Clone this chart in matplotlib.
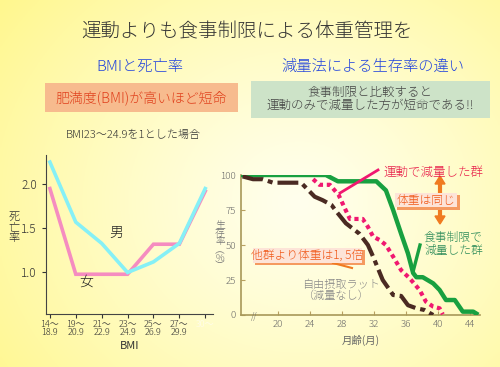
"""Slide: weight control by diet rather than exercise (BMI vs mortality, rat survival)."""
import matplotlib
matplotlib.use("Agg")
import matplotlib.pyplot as plt
import numpy as np
from matplotlib.patches import Rectangle

plt.rcParams["font.family"] = ["Noto Sans CJK JP", "DejaVu Sans"]
plt.rcParams["font.weight"] = "light"

W, H = 500, 367

# left panel: mortality ratio by BMI class (BMI 23-24.9 = 1)
bmi_labels = ["14～\n18.9", "19～\n20.9", "21～\n22.9", "23～\n24.9",
              "25～\n26.9", "27～\n29.9", "30～\n"]
male = [2.25, 1.57, 1.33, 1.00, 1.12, 1.33, 1.95]
female = [1.95, 0.98, 0.98, 0.98, 1.32, 1.32, 1.92]

# right panel: survival (%) vs age in months
free_m = [15.6, 16.9, 18.1, 19.4, 22.9, 23.5, 24.6, 25.6, 26.7, 27.3, 28.5,
          30.2, 31.25, 31.9, 33.1, 34.4, 35.4, 36.25, 37.3, 38.3, 39.4]
free_p = [99, 97, 97, 94.5, 94.5, 91, 84.5, 82, 78.6, 74, 65.5,
          58, 50, 41.7, 25, 14.3, 13.6, 7, 4.8, 3.6, 0]
exer_m = [24.4, 25.2, 26.5, 27.6, 28.3, 29.0, 30.6, 31.25, 31.9, 32.7, 33.5,
          34.4, 35.4, 36.5, 37.7, 38.5, 39.4, 40.2, 40.6]
exer_p = [97, 93, 93, 85.7, 77, 68.6, 68.6, 63, 56, 53.6, 50,
          41.7, 32, 26, 17.9, 9.5, 6, 4.8, 0.5]
diet_m = [15.6, 26.0, 27.5, 32.3, 33.5, 34.4, 35.4, 36.25, 36.9, 37.3, 38.1,
          39.4, 40.2, 41.0, 42.1, 43.1, 44.4, 44.8]
diet_p = [100, 100, 95.5, 95.5, 89, 75, 58, 44, 30, 27, 27,
          22.6, 17.9, 10.7, 10.7, 2.4, 2.4, 1]
age_ticks = [20, 24, 28, 32, 36, 40, 44]
surv_ticks = [0, 25, 50, 75, 100]


def fx(px):
    return px / W


def fy(py):
    return 1 - py / H


def box(fig, x0, y0, x1, y1, color, **kw):
    fig.add_artist(Rectangle((fx(x0), fy(y1)), fx(x1) - fx(x0), fy(y0) - fy(y1),
                             transform=fig.transFigure, facecolor=color,
                             edgecolor="none", **kw))


def line(fig, p0, p1, color, lw):
    fig.add_artist(plt.Line2D([fx(p0[0]), fx(p1[0])], [fy(p0[1]), fy(p1[1])],
                              transform=fig.transFigure, color=color, lw=lw))


def main():
    fig = plt.figure(figsize=(5, 3.67), dpi=100)

    # yellow background, paler towards the middle
    bg = fig.add_axes([0, 0, 1, 1], zorder=-10)
    yy, xx = np.mgrid[0:1:200j, 0:1:200j]
    r = np.sqrt(((xx - 0.6) / 0.75) ** 2 + ((yy - 0.55) / 0.9) ** 2)
    r = np.clip(r, 0, 1)
    c0 = np.array([1.0, 1.0, 0.93])
    c1 = np.array([1.0, 0.97, 0.56])
    img = c0 + (c1 - c0) * r[..., None] ** 1.2
    bg.imshow(img, extent=[0, 1, 0, 1], aspect="auto")
    bg.axis("off")

    # headings
    fig.text(fx(247), fy(32), "運動よりも食事制限による体重管理を", fontsize=14,
             ha="center", va="center", color="#333333")
    fig.text(fx(140), fy(67), "BMIと死亡率", fontsize=11, ha="center",
             va="center", color="#2244dd")
    fig.text(fx(373), fy(67), "減量法による生存率の違い", fontsize=11,
             ha="center", va="center", color="#2244dd")

    box(fig, 45, 83, 238, 112, "#f7bb8e")
    fig.text(fx(141), fy(98), "肥満度(BMI)が高いほど短命", fontsize=10,
             ha="center", va="center", color="#e0401c")
    box(fig, 251, 81, 490, 118, "#cde3c8")
    fig.text(fx(370), fy(99), "食事制限と比較すると\n運動のみで減量した方が短命である!!",
             fontsize=9, ha="center", va="center", color="#444444",
             linespacing=1.05)

    # ---- left: BMI vs mortality
    ax1 = fig.add_axes([fx(46), fy(314), fx(213) - fx(46), fy(155) - fy(314)])
    ax1.patch.set_alpha(0)
    x = np.arange(len(bmi_labels))
    ax1.plot(x, female, color="#f58cc0", lw=2.6, solid_joinstyle="miter")
    ax1.plot(x, male, color="#86f0f6", lw=2.6, solid_joinstyle="miter")
    ax1.set_xlim(-0.15, 6.3)
    ax1.set_ylim(0.53, 2.33)
    ax1.set_yticks([1.0, 1.5, 2.0])
    ax1.set_xticks(x)
    ax1.set_xticklabels(bmi_labels, fontsize=6.5, linespacing=0.95)
    ax1.tick_params(axis="y", labelsize=8.5, length=3, colors="#333333")
    ax1.tick_params(axis="x", length=3, pad=1, colors="#333333")
    ax1.get_xticklabels()[-1].set_color("#fffcf0")
    for s in ("top", "right"):
        ax1.spines[s].set_visible(False)
    for s in ("left", "bottom"):
        ax1.spines[s].set_color("#444444")
    ax1.set_xlabel("BMI", fontsize=8, color="#333333", labelpad=3)
    ax1.text(2.55, 1.45, "男", fontsize=10, color="#222222", ha="center", va="center")
    ax1.text(1.4, 0.9, "女", fontsize=10, color="#222222", ha="center", va="center")
    fig.text(fx(133), fy(135), "BMI23～24.9を1とした場合", fontsize=8,
             ha="center", va="center", color="#333333")
    fig.text(fx(14), fy(228), "死\n亡\n率", fontsize=8, ha="center",
             va="center", color="#333333", linespacing=0.95)

    # ---- right: survival curves
    ax2 = fig.add_axes([fx(241), fy(315), fx(480) - fx(241), fy(175) - fy(315)])
    ax2.patch.set_alpha(0)
    ax2.plot(diet_m, diet_p, color="#18a040", lw=3.2, zorder=3)
    ax2.plot(free_m, free_p, color="#4a2a22", lw=3, dashes=(5, 1.2, 1.2, 1.2),
             zorder=4)
    ax2.plot(exer_m, exer_p, color="#f01870", lw=3, dashes=(1, 0.9), zorder=5)
    ax2.set_xlim(15.4, 45.25)
    ax2.set_ylim(0, 100)
    ax2.set_xticks(age_ticks)
    ax2.set_yticks(surv_ticks)
    ax2.tick_params(labelsize=7, colors="#666666", direction="in", length=3)
    ax2.tick_params(axis="both", color="#b8a060")
    for s in ("top", "right"):
        ax2.spines[s].set_visible(False)
    for s in ("left", "bottom"):
        ax2.spines[s].set_color("#a89858")
        ax2.spines[s].set_linewidth(1.2)
    ax2.set_xlabel("月齢(月)", fontsize=7.5, color="#666666", labelpad=4)
    ax2.text(17.0, -1, "//", fontsize=6, color="#666666", ha="center",
             va="center", style="italic")
    fig.text(fx(220), fy(246), "生\n存\n率\n︵\n%\n︶", fontsize=7, ha="center",
             va="center", color="#777777", linespacing=0.9)

    # annotations
    line(fig, (340, 193), (378, 170), "#f01870", 2)
    fig.text(fx(383), fy(172), "運動で減量した群", fontsize=9,
             ha="left", va="center", color="#e8204a")
    fig.add_artist(plt.Line2D([fx(440), fx(440)], [fy(182), fy(218)],
                              transform=fig.transFigure, color="#f07a20", lw=3))
    fig.patches.append(plt.Polygon([[fx(435), fy(184)], [fx(445), fy(184)],
                                    [fx(440), fy(176)]], closed=True,
                                   transform=fig.transFigure, color="#f07a20"))
    fig.patches.append(plt.Polygon([[fx(435), fy(216)], [fx(445), fy(216)],
                                    [fx(440), fy(224)]], closed=True,
                                   transform=fig.transFigure, color="#f07a20"))
    box(fig, 397, 195, 460, 210, "#f59a60", zorder=2)
    box(fig, 395, 193, 457, 207, "#fde4d8", zorder=3)
    fig.text(fx(426), fy(200), "体重は同じ", fontsize=8.5, ha="center",
             va="center", color="#f05818", zorder=4)

    line(fig, (420, 245), (413, 272), "#18a040", 2.4)
    fig.text(fx(424), fy(244), "食事制限で\n減量した群", fontsize=8.5,
             ha="left", va="center", color="#2a8a58", linespacing=1.0)

    box(fig, 255, 250, 365, 265, "#f59a60", zorder=2)
    box(fig, 253, 248, 362, 263, "#fde4d8", zorder=3)
    fig.text(fx(307), fy(255.5), "他群より体重は1, 5倍", fontsize=8.5,
             ha="center", va="center", color="#f05818", zorder=4)
    line(fig, (333, 263), (352, 268), "#f07a20", 1.5)

    fig.text(fx(302), fy(291), "自由摂取ラット\n（減量なし）", fontsize=8,
             ha="left", va="center", color="#888888", linespacing=1.1)

    fig.savefig("out.png", dpi=100)
    plt.close(fig)


if __name__ == "__main__":
    main()
